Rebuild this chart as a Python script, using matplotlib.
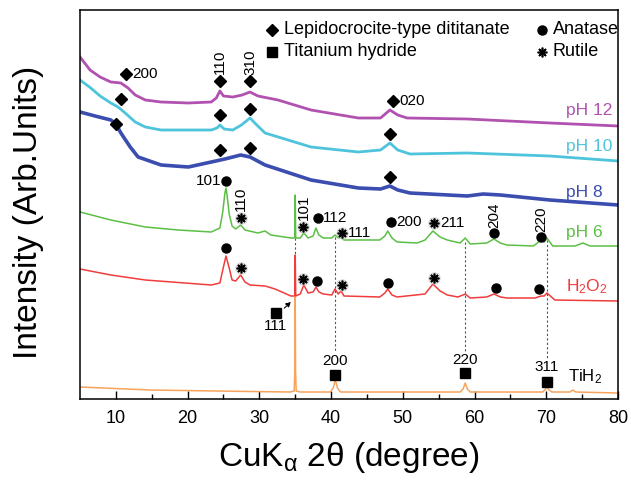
import matplotlib
matplotlib.use("Agg")
import matplotlib.pyplot as plt

plt.rcParams["font.family"] = ["Liberation Sans", "DejaVu Sans"]
plt.rcParams["mathtext.fontset"] = "custom"
plt.rcParams["mathtext.rm"] = "Liberation Sans"
plt.rcParams["mathtext.it"] = "Liberation Sans:italic"

# XRD patterns (2theta in degree, offset intensity in arb. units)
ph12_x = [5.0, 6.4, 7.8, 9.3, 10.7, 11.7, 12.7, 14.1, 16.3, 20.1, 23.3, 24.0, 24.5, 25.0, 26.3,
          27.6, 28.7, 29.8, 32.6, 37.2, 43.8, 46.9, 48.2, 49.3, 50.6, 59.0, 70.5, 80.0]
ph12_y = [342, 329, 322, 317, 316, 311, 304, 299, 297, 296, 297, 301, 308, 303, 302,
          304, 307, 303, 299, 289, 281, 281, 289, 284, 281, 280, 276, 273]

ph10_x = [5.0, 6.5, 7.8, 9.3, 10.3, 11.3, 12.7, 14.1, 16.3, 23.3, 24.1, 24.5, 25.1, 26.3,
          27.5, 28.7, 29.5, 30.8, 37.2, 43.8, 46.9, 48.2, 49.3, 51.0, 59.0, 70.5, 80.0]
ph10_y = [319, 311, 303, 296, 292, 286, 277, 272, 269, 269, 271, 274, 270, 269,
          274, 281, 275, 266, 252, 247, 249, 256, 249, 245, 246, 243, 238]

ph8_x = [5.0, 7.1, 9.3, 10.0, 10.7, 12.0, 13.1, 16.3, 20.1, 23.3, 25.2, 27.4, 28.7, 30.8,
         37.2, 43.8, 46.9, 48.2, 49.3, 51.0, 59.0, 61.2, 63.6, 70.5, 80.0]
ph8_y = [287, 283, 279, 275, 266, 252, 242, 234, 232, 237, 240, 244, 242, 234,
         219, 211, 210, 213, 209, 206, 203, 205, 204, 199, 194]

ph6_x = [5.0, 9.3, 14.1, 18.7, 23.3, 24.5, 24.9, 25.2, 25.35, 25.5, 25.8, 26.2, 26.7, 27.4,
         28.0, 29.8, 30.8, 31.6, 34.4, 34.93, 35.0, 35.07, 35.7, 36.2, 36.8, 37.5, 37.9, 38.3,
         38.9, 40.1, 40.55, 41.0, 41.4, 41.8, 46.8, 47.5, 47.9, 48.5, 49.2, 52.0, 53.1, 54.2,
         55.2, 56.2, 58.0, 58.7, 59.4, 61.7, 62.7, 63.6, 64.5, 68.2, 69.3, 69.7, 70.1, 70.9,
         74.0, 75.1, 76.1, 80.0]
ph6_y = [187, 179, 172, 169, 167, 171, 187, 206, 211, 204, 185, 173, 170, 174,
         169, 166, 168, 164, 161, 161, 204, 161, 161, 166, 161, 163, 171, 164,
         161, 161, 164, 161, 162, 159, 159, 163, 168, 161, 157, 156, 159, 168,
         162, 159, 156, 161, 155, 156, 160, 156, 154, 153, 159, 157, 161, 153,
         153, 156, 153, 153]

h2o2_x = [5.0, 9.3, 14.1, 23.3, 24.5, 24.9, 25.35, 25.8, 26.2, 26.7, 27.4, 28.0, 28.7, 30.8,
          32.2, 34.4, 34.93, 35.0, 35.07, 35.7, 36.2, 36.8, 37.5, 37.9, 38.3, 38.9, 40.1,
          40.55, 41.0, 41.4, 41.8, 46.8, 47.5, 47.9, 48.5, 49.2, 53.1, 54.2, 55.2, 56.2, 57.7,
          58.7, 59.4, 61.7, 62.7, 63.6, 64.5, 68.4, 69.3, 69.7, 70.1, 71.2, 80.0]
h2o2_y = [130, 124, 119, 114, 116, 129, 143, 131, 119, 118, 124, 117, 114, 113,
          110, 103, 103, 144, 103, 105, 114, 106, 107, 112, 107, 105, 104,
          110, 105, 108, 103, 102, 106, 110, 104, 102, 105, 115, 108, 104, 102,
          105, 101, 102, 105, 102, 101, 101, 103, 103, 106, 99, 98]

tih2_x = [5.0, 14.8, 28.7, 34.3, 34.86, 34.95, 35.0, 35.05, 35.14, 35.7, 39.9, 40.3, 40.6,
          40.9, 41.3, 58.0, 58.4, 58.7, 59.0, 59.4, 69.5, 69.8, 70.1, 70.4, 70.8, 73.3, 73.7,
          74.1, 80.0]
tih2_y = [12, 9, 7.5, 7, 8, 29, 102, 29, 8, 7, 7, 11, 19,
          11, 7, 7, 10, 16, 10, 7, 7, 9, 12, 9, 7, 7, 9,
          7, 6]

# phase markers
lepido_x = [11.4, 24.5, 28.7, 48.6, 10.7, 24.5, 28.7, 48.2, 10.0, 24.5, 28.7, 48.2]
lepido_y = [325, 318, 318, 298, 300, 284, 290, 265, 275, 249, 251, 222]
anatase_x = [25.3, 38.2, 48.4, 62.7, 69.3, 25.3, 38.0, 47.9, 63.0, 69.0]
anatase_y = [218, 181, 177, 166, 162, 151, 118, 116, 111, 110]
rutile_x = [27.4, 36.1, 41.5, 54.4, 27.4, 36.1, 41.5, 54.4]
rutile_y = [181, 172, 166, 176, 131, 120, 114, 121]
hydride_x = [32.3, 40.6, 58.7, 70.1]
hydride_y = [86, 24, 26, 17]

# hkl labels: x, y, text, rotation, ha
hkl_labels = [
    (12.3, 325, "200", 0, "left"), (24.5, 337, "110", 90, "center"),
    (28.7, 337, "310", 90, "center"), (49.5, 298, "020", 0, "left"),
    (24.7, 218, "101", 0, "right"), (27.4, 200, "110", 90, "center"),
    (36.2, 192, "101", 90, "center"), (38.9, 181, "112", 0, "left"),
    (42.3, 166, "111", 0, "left"), (49.1, 177, "200", 0, "left"),
    (55.2, 176, "211", 0, "left"), (62.7, 184, "204", 90, "center"),
    (69.3, 180, "220", 90, "center"), (32.3, 73, "111", 0, "center"),
    (40.6, 38, "200", 0, "center"), (58.7, 39, "220", 0, "center"),
    (70.1, 32, "311", 0, "center"),
]

# dashed guides: x, y top, y bottom
guide_x = [35.0, 40.55, 58.7, 70.1]
guide_top = [161, 162, 157, 159]
guide_bottom = [102, 47, 47, 41]

series = [
    (ph12_x, ph12_y, "#b152b1", 2.0, "pH 12", 289),
    (ph10_x, ph10_y, "#4ec4dc", 2.0, "pH 10", 252),
    (ph8_x, ph8_y, "#3c4db0", 2.6, "pH 8", 207),
    (ph6_x, ph6_y, "#5cbf45", 1.1, "pH 6", 167),
    (h2o2_x, h2o2_y, "#f03c3c", 1.1, "H$_2$O$_2$", 112),
    (tih2_x, tih2_y, "#f7a35c", 1.1, None, 0),
]

fig = plt.figure(figsize=(6.31, 4.82), dpi=100)
ax = fig.add_axes([80 / 631, 83 / 482, 538 / 631, 389 / 482])

for xs, ys, col, lw, name, ly in series:
    ax.plot(xs, ys, color=col, lw=lw, zorder=2)
    if name:
        ax.text(72.8, ly, name, color=col, fontsize=12.5, ha="left", va="center")
ax.text(73.0, 22, "TiH$_2$", fontsize=12, ha="left", va="center")

for gx, gt, gb in zip(guide_x, guide_top, guide_bottom):
    ax.plot([gx, gx], [gt, gb], color="#555555", lw=0.8, ls=(0, (2, 2)), zorder=1)

ax.annotate("", xy=(34.7, 99), xytext=(33.2, 89),
            arrowprops=dict(arrowstyle="-|>", color="black", lw=0.8, ls="--",
                            mutation_scale=7))

ax.plot(lepido_x, lepido_y, "D", color="black", ms=6.5, ls="none", zorder=4)
ax.plot(anatase_x, anatase_y, "o", color="black", ms=6.5, ls="none", zorder=4)
ax.plot(hydride_x, hydride_y, "s", color="black", ms=6.5, ls="none", zorder=4)
ax.plot(rutile_x, rutile_y, "o", color="#c8c8c8", ms=9, mec="none", alpha=0.7, ls="none", zorder=3)
ax.plot(rutile_x, rutile_y, marker=(8, 2, 0), color="black", ms=7, mew=1.2, ls="none", zorder=4)

for tx, ty, s, rot, ha in hkl_labels:
    ax.text(tx, ty, s, fontsize=11, rotation=rot, ha=ha, va="center")

# legend drawn by hand
ax.plot([31.8], [369], "D", color="black", ms=6.5)
ax.text(33.5, 369, "Lepidocrocite-type dititanate", fontsize=13, va="center")
ax.plot([31.8], [347], "s", color="black", ms=6.5)
ax.text(33.5, 347, "Titanium hydride", fontsize=13, va="center")
ax.plot([69.4], [369], "o", color="black", ms=6.5)
ax.text(70.9, 369, "Anatase", fontsize=13, va="center")
ax.plot([69.4], [347], marker=(8, 2, 0), color="black", ms=7, mew=1.2)
ax.text(70.9, 347, "Rutile", fontsize=13, va="center")

ax.set_xlim(5, 80)
ax.set_ylim(0, 389)
ax.set_xticks([10, 20, 30, 40, 50, 60, 70, 80])
ax.set_xticks([15, 25, 35, 45, 55, 65, 75], minor=True)
ax.set_yticks([])
ax.tick_params(axis="x", which="major", direction="in", length=6, width=1, labelsize=13, pad=8)
ax.tick_params(axis="x", which="minor", direction="in", length=3.5, width=1)
for sp in ax.spines.values():
    sp.set_linewidth(1.1)

ax.set_xlabel("CuK$_{\\mathrm{\\alpha}}$ 2θ (degree)", fontsize=24)
ax.xaxis.set_label_coords(0.5, -0.105)
ax.set_ylabel("Intensity (Arb.Units)", fontsize=24)
ax.yaxis.set_label_coords(-0.066, 0.48)

fig.savefig("out.png", dpi=100)
